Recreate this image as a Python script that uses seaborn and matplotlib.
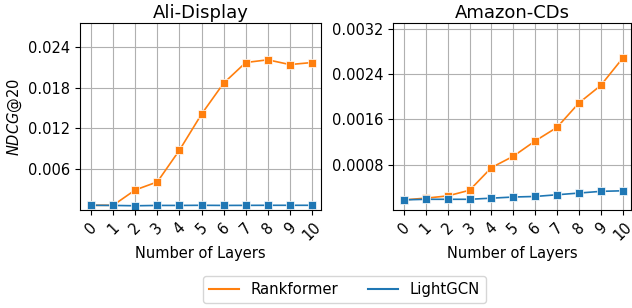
import pandas as pd
import seaborn as sns
import matplotlib.pyplot as plt

# Values
layers = [0, 1, 2, 3, 4, 5, 6, 7, 8, 9, 10]

ali_rankformer = [0.0007, 0.0007, 0.00296, 0.00414, 0.0088, 0.0141, 0.01866, 0.0217, 0.0221, 0.0214, 0.0217]
ali_lightgcn = [0.0007, 0.00068, 0.00063, 0.00068, 0.00068, 0.0007, 0.00068, 0.00069, 0.0007, 0.0007, 0.0007]

cds_rankformer = [0.00018, 0.00021, 0.00025, 0.00035, 0.00075, 0.00095, 0.00122, 0.00146, 0.00189, 0.0022, 0.00268]
cds_lightgcn = [0.00018, 0.00019, 0.00019, 0.00019, 0.00021, 0.00023, 0.00024, 0.00027, 0.0003, 0.00033, 0.00034]

ali_ticks = [0.006, 0.012, 0.018, 0.024]
cds_ticks = [0.0008, 0.0016, 0.0024, 0.0032]

def to_long(rank, light):
    return pd.DataFrame({
        'Layers': layers * 2,
        'NDCG': rank + light,
        'Model': ['Rankformer'] * len(layers) + ['LightGCN'] * len(layers),
    })

palette = {'Rankformer': 'tab:orange', 'LightGCN': 'tab:blue'}

fig = plt.figure(figsize=(6.32, 3.08), dpi=100)
ax1 = fig.add_axes([0.1266, 0.318, 0.381, 0.607])
ax2 = fig.add_axes([0.622, 0.318, 0.377, 0.607])

panels = [
    (ax1, 'Ali-Display', to_long(ali_rankformer, ali_lightgcn), ali_ticks, 0.0275),
    (ax2, 'Amazon-CDs', to_long(cds_rankformer, cds_lightgcn), cds_ticks, 0.0033),
]

for ax, title, df, ticks, top in panels:
    sns.lineplot(data=df, x='Layers', y='NDCG', hue='Model', palette=palette,
                 marker='s', markersize=6, markeredgewidth=0.5, linewidth=1.2,
                 ax=ax, legend=False)
    ax.set_title(title, fontsize=13, pad=4)
    ax.set_xticks(layers)
    ax.set_xticklabels([str(l) for l in layers], rotation=45, fontsize=10.5)
    ax.set_yticks(ticks)
    ax.set_yticklabels([f'{t:g}' for t in ticks], fontsize=10.5)
    ax.set_ylim(0, top)
    ax.set_xlim(-0.5, 10.4)
    ax.grid(True, color='#b0b0b0', linewidth=0.8)
    ax.set_axisbelow(True)
    ax.set_xlabel('Number of Layers', fontsize=10.5, labelpad=2)
    ax.set_ylabel('')

ax1.set_ylabel('$NDCG$@20', fontsize=10.5, labelpad=3)

handles = [plt.Line2D([], [], color='tab:orange', linewidth=1.5),
           plt.Line2D([], [], color='tab:blue', linewidth=1.5)]
fig.legend(handles, ['Rankformer', 'LightGCN'], loc='center', ncol=2,
           bbox_to_anchor=(0.545, 0.06), fontsize=10.7, columnspacing=2.0)

plt.savefig('out.png', dpi=100)
